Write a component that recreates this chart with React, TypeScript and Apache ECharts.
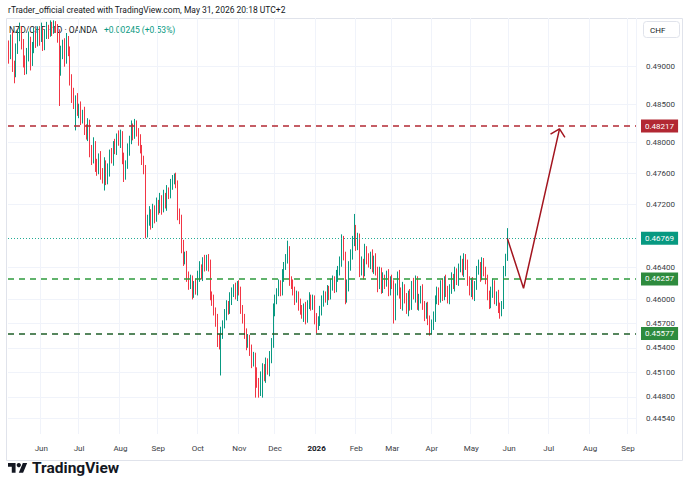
import React, { useEffect, useRef } from 'react';
import * as echarts from 'echarts';

// ---- data ----
const startDate = '2025-05-07';
const endDate = '2026-09-07';
const firstOpen = 0.4925;

const closes = [
  0.4916, 0.4935, 0.4902, 0.4893, 0.4922, 0.4942, 0.4949, 0.4929, 0.4909, 0.4896,
  0.4916, 0.4935, 0.4906, 0.4925, 0.4942, 0.4933, 0.4945, 0.4938, 0.4948, 0.4929,
  0.4942, 0.4950, 0.4946, 0.4953, 0.4949, 0.4955, 0.4952, 0.4942, 0.4896, 0.4916,
  0.4929, 0.4909, 0.4935, 0.4922, 0.4882, 0.4862, 0.4850, 0.4856, 0.4840, 0.4846,
  0.4830, 0.4837, 0.4819, 0.4810, 0.4823, 0.4791, 0.4778, 0.4797, 0.4771, 0.4765,
  0.4780, 0.4762, 0.4755, 0.4771, 0.4752, 0.4765, 0.4784, 0.4778, 0.4797, 0.4791,
  0.4806, 0.4801, 0.4810, 0.4778, 0.4759, 0.4771, 0.4791, 0.4804, 0.4819, 0.4810,
  0.4823, 0.4814, 0.4804, 0.4791, 0.4778, 0.4765, 0.4686, 0.4699, 0.4708, 0.4695,
  0.4714, 0.4704, 0.4720, 0.4714, 0.4727, 0.4716, 0.4729, 0.4720, 0.4737, 0.4733,
  0.4746, 0.4752, 0.4755, 0.4746, 0.4708, 0.4701, 0.4667, 0.4649, 0.4655, 0.4630,
  0.4618, 0.4624, 0.4609, 0.4618, 0.4611, 0.4630, 0.4639, 0.4630, 0.4646, 0.4641,
  0.4651, 0.4642, 0.4605, 0.4600, 0.4585, 0.4575, 0.4551, 0.4545, 0.4557, 0.4569,
  0.4581, 0.4593, 0.4587, 0.4601, 0.4609, 0.4614, 0.4605, 0.4618, 0.4611, 0.4587,
  0.4577, 0.4557, 0.4545, 0.4551, 0.4536, 0.4524, 0.4529, 0.4509, 0.4497, 0.4488,
  0.4503, 0.4515, 0.4505, 0.4521, 0.4512, 0.4527, 0.4545, 0.4587, 0.4600, 0.4609,
  0.4618, 0.4611, 0.4630, 0.4642, 0.4651, 0.4661, 0.4624, 0.4618, 0.4611, 0.4601,
  0.4605, 0.4593, 0.4587, 0.4581, 0.4590, 0.4577, 0.4593, 0.4601, 0.4593, 0.4600,
  0.4577, 0.4568, 0.4572, 0.4587, 0.4597, 0.4605, 0.4601, 0.4611, 0.4605, 0.4618,
  0.4624, 0.4614, 0.4630, 0.4636, 0.4646, 0.4674, 0.4655, 0.4601, 0.4618, 0.4642,
  0.4655, 0.4674, 0.4689, 0.4667, 0.4677, 0.4636, 0.4646, 0.4634, 0.4661, 0.4651,
  0.4646, 0.4655, 0.4639, 0.4649, 0.4636, 0.4618, 0.4634, 0.4614, 0.4626, 0.4621,
  0.4630, 0.4611, 0.4624, 0.4618, 0.4581, 0.4611, 0.4630, 0.4609, 0.4593, 0.4614,
  0.4601, 0.4587, 0.4605, 0.4593, 0.4618, 0.4605, 0.4624, 0.4593, 0.4600, 0.4611,
  0.4593, 0.4581, 0.4590, 0.4575, 0.4563, 0.4569, 0.4577, 0.4600, 0.4609, 0.4601,
  0.4618, 0.4605, 0.4624, 0.4611, 0.4600, 0.4614, 0.4626, 0.4618, 0.4634, 0.4624,
  0.4639, 0.4646, 0.4636, 0.4651, 0.4642, 0.4624, 0.4611, 0.4621, 0.4605, 0.4618,
  0.4636, 0.4642, 0.4630, 0.4646, 0.4636, 0.4624, 0.4605, 0.4596, 0.4611, 0.4618,
  0.4600, 0.4605, 0.4590, 0.4585, 0.4593, 0.4636, 0.46524, 0.46769,
];

// wick lengths in pips above max(open, close) / below min(open, close)
const upperWicks = [
  10, 8, 12, 6, 9, 7, 10, 5, 8, 6,
  9, 12, 5, 8, 10, 6, 9, 7, 11, 5,
  8, 10, 6, 9, 7, 7, 6, 5, 8, 12,
  7, 9, 10, 6, 5, 8, 10, 6, 9, 5,
  8, 6, 10, 5, 9, 7, 6, 10, 5, 8,
  6, 9, 5, 10, 6, 8, 7, 9, 5, 8,
  6, 10, 7, 5, 9, 6, 8, 5, 10, 6,
  8, 6, 5, 7, 6, 5, 6, 8, 10, 6,
  7, 5, 9, 6, 8, 5, 10, 6, 8, 5,
  7, 6, 5, 6, 5, 7, 6, 8, 5, 6,
  5, 7, 6, 5, 8, 6, 9, 5, 7, 10,
  5, 6, 8, 5, 6, 5, 7, 6, 9, 5,
  7, 6, 5, 8, 6, 5, 7, 5, 6, 5,
  6, 5, 7, 6, 5, 8, 6, 5, 7, 6,
  8, 6, 5, 7, 6, 9, 7, 8, 6, 5,
  7, 6, 8, 5, 6, 13, 6, 5, 7, 5,
  6, 5, 8, 6, 5, 7, 6, 8, 5, 6,
  5, 6, 7, 5, 8, 6, 5, 7, 6, 8,
  6, 5, 7, 6, 8, 8, 6, 5, 7, 6,
  8, 6, 19, 5, 7, 6, 8, 5, 9, 6,
  7, 5, 8, 6, 9, 5, 7, 6, 8, 5,
  6, 8, 5, 7, 6, 9, 5, 7, 6, 8,
  5, 7, 6, 8, 5, 9, 6, 5, 7, 6,
  8, 5, 6, 7, 5, 6, 8, 5, 7, 6,
  6, 8, 5, 7, 6, 5, 8, 6, 7, 5,
  6, 9, 5, 7, 6, 8, 5, 6, 7, 5,
  6, 8, 5, 7, 6, 5, 7, 6, 5, 8,
  6, 5, 7, 6, 5, 6, 5, 13,
];
const lowerWicks = [
  12, 6, 9, 15, 7, 5, 8, 6, 10, 7,
  6, 9, 11, 5, 7, 8, 6, 10, 5, 8,
  7, 5, 9, 6, 8, 5, 7, 10, 48, 8,
  6, 9, 5, 8, 7, 10, 6, 34, 5, 8,
  7, 5, 9, 6, 8, 10, 7, 5, 9, 8,
  6, 10, 8, 17, 7, 6, 9, 5, 8, 6,
  7, 5, 8, 6, 10, 7, 5, 8, 6, 7,
  5, 6, 8, 5, 7, 6, 9, 8, 6, 7,
  5, 8, 6, 7, 5, 9, 6, 5, 8, 6,
  5, 7, 6, 5, 8, 6, 9, 7, 5, 8,
  6, 5, 9, 7, 5, 6, 8, 5, 7, 6,
  5, 7, 6, 8, 5, 9, 10, 7, 39, 6,
  5, 7, 6, 5, 8, 6, 5, 7, 6, 5,
  7, 6, 8, 5, 6, 9, 7, 30, 6, 9,
  7, 24, 6, 8, 5, 7, 6, 5, 8, 6,
  5, 7, 6, 8, 5, 6, 7, 5, 6, 8,
  5, 7, 6, 5, 9, 8, 6, 5, 7, 6,
  8, 10, 6, 5, 7, 6, 5, 8, 6, 5,
  7, 6, 5, 8, 6, 5, 6, 7, 5, 8,
  6, 5, 7, 6, 5, 8, 6, 9, 5, 7,
  6, 8, 5, 7, 6, 9, 5, 7, 6, 8,
  5, 7, 6, 5, 11, 7, 6, 8, 5, 7,
  6, 5, 8, 7, 6, 5, 9, 6, 7, 5,
  6, 8, 5, 7, 8, 6, 7, 5, 6, 8,
  5, 7, 6, 8, 5, 6, 7, 5, 8, 6,
  7, 5, 6, 8, 5, 7, 6, 8, 5, 7,
  6, 5, 8, 6, 7, 5, 6, 8, 7, 9,
  6, 8, 7, 9, 6, 5, 7, 4,
];

const yTicks = [0.4454, 0.448, 0.451, 0.454, 0.457, 0.46, 0.464, 0.472, 0.476, 0.48, 0.485, 0.49];
const yMin = 0.4435;
const yMax = 0.49652;
const monthNames = ['Jan', 'Feb', 'Mar', 'Apr', 'May', 'Jun', 'Jul', 'Aug', 'Sep', 'Oct', 'Nov', 'Dec'];

const levelPrices = [0.48217, 0.46769, 0.46257, 0.45577];
const levelLineColors = ['#b22833', '#22ab94', '#2e9a3c', '#1f5f28'];
const levelBoxColors = ['#b22833', '#089981', '#2e8b3e', '#2e8b3e'];
const levelTypes: any[] = [[6, 5], [1, 2], [6, 5], [6, 5]];
const levelWidths = [1.5, 1, 1.5, 1.5];

const arrowDates = ['2026-05-29', '2026-06-11', '2026-07-09'];
const arrowPrices = [0.46769, 0.4614, 0.4818];
const headDates = ['2026-07-02', '2026-07-09', '2026-07-14'];
const headPrices = [0.4811, 0.4818, 0.4807];

const headerText = 'rTrader_official created with TradingView.com, May 31, 2026 20:18 UTC+2';
const symbolText = 'NZD/CHF · 1D · OANDA';
const changeText = '+0.00245 (+0.53%)';

const TV_PATH = 'M14 22H7V11H0V4h14v18zM28 22h-8l7.5-18h8L28 22z';
echarts.graphic.registerShape('tvlogo', echarts.graphic.extendPath(TV_PATH, {}) as any);

const FONT = 'Roboto, "Noto Sans", sans-serif';

function buildCategories(): string[] {
  const out: string[] = [];
  const [sy, sm, sd] = startDate.split('-').map(Number);
  const [ey, em, ed] = endDate.split('-').map(Number);
  const end = Date.UTC(ey, em - 1, ed);
  for (let t = Date.UTC(sy, sm - 1, sd); t <= end; t += 86400000) {
    const d = new Date(t);
    const w = d.getUTCDay();
    if (w === 0 || w === 6) continue;
    out.push(d.toISOString().slice(0, 10));
  }
  return out;
}

export default function App() {
  const ref = useRef<HTMLDivElement>(null);
  useEffect(() => {
    if (!ref.current) return;
    const chart = echarts.init(ref.current, undefined, { renderer: 'svg' });
    const cats = buildCategories();
    const isMonthStart = (i: number) => i > 0 && cats[i].slice(5, 7) !== cats[i - 1].slice(5, 7);

    const ohlc = closes.map((c, i) => {
      const o = i === 0 ? firstOpen : closes[i - 1];
      const hi = Math.max(o, c) + upperWicks[i] * 1e-4;
      const lo = Math.min(o, c) - lowerWicks[i] * 1e-4;
      return [Math.log(o), Math.log(c), Math.log(lo), Math.log(hi)];
    });

    const option: any = {
      animation: false,
      backgroundColor: '#ffffff',
      grid: { left: 8, right: 54, top: 18, bottom: 55, containLabel: false, outerBoundsMode: 'none' },
      xAxis: {
        type: 'category',
        data: cats,
        boundaryGap: true,
        axisLine: { show: false },
        axisTick: { show: false },
        splitLine: { show: true, interval: (i: number) => isMonthStart(i), lineStyle: { color: '#f0f3fa', width: 1 } },
        axisLabel: {
          interval: (i: number) => isMonthStart(i),
          margin: 10,
          fontSize: 8,
          fontFamily: FONT,
          color: '#3a3d45',
          formatter: (v: string) => {
            const m = Number(v.slice(5, 7));
            if (m === 1) return '{b|' + v.slice(0, 4) + '}';
            return monthNames[m - 1];
          },
          rich: { b: { fontWeight: 'bold', fontSize: 8, fontFamily: FONT, color: '#131722' } },
        },
      },
      yAxis: {
        type: 'value',
        position: 'right',
        min: Math.log(yMin),
        max: Math.log(yMax),
        scale: true,
        axisLine: { show: false },
        axisTick: { show: false, customValues: yTicks.map((v) => Math.log(v)) },
        splitLine: { show: true, lineStyle: { color: '#f0f3fa', width: 1 } },
        axisLabel: {
          customValues: yTicks.map((v) => Math.log(v)),
          formatter: (v: number) => Math.exp(v).toFixed(5),
          margin: 10,
          fontSize: 8,
          fontFamily: FONT,
          color: '#3a3d45',
        },
      },
      series: [
        {
          type: 'candlestick',
          data: ohlc,
          barWidth: 1.2,
          clip: true,
          itemStyle: {
            color: '#089981',
            color0: '#f23645',
            borderColor: '#089981',
            borderColor0: '#f23645',
            borderWidth: 1,
          },
          markLine: {
            silent: true,
            precision: 10,
            symbol: ['none', 'none'],
            animation: false,
            data: levelPrices.map((p, k) => ({
              yAxis: Math.log(p),
              lineStyle: { color: levelLineColors[k], type: levelTypes[k], width: levelWidths[k] },
              label: {
                show: true,
                position: 'end',
                distance: 5,
                formatter: p.toFixed(5),
                backgroundColor: levelBoxColors[k],
                color: '#ffffff',
                fontSize: 8,
                fontFamily: FONT,
                padding: [3, 4, 2, 4],
              },
            })),
          },
          z: 3,
        },
        {
          type: 'line',
          data: arrowDates.map((d, k) => [d, Math.log(arrowPrices[k])]),
          symbol: 'none',
          lineStyle: { color: '#a3151f', width: 1.5 },
          z: 5,
          silent: true,
        },
        {
          type: 'line',
          data: headDates.map((d, k) => [d, Math.log(headPrices[k])]),
          symbol: 'none',
          lineStyle: { color: '#a3151f', width: 1.5 },
          z: 5,
          silent: true,
        },
      ],
      graphic: [
        {
          type: 'rect',
          shape: { x: 6.5, y: 18.5, width: 676, height: 442 },
          style: { fill: 'none', stroke: '#e0e3eb', lineWidth: 1 },
          silent: true,
          z: -10,
        },
        {
          type: 'text',
          x: 8,
          y: 10,
          style: { text: headerText, fontSize: 8.5, fontFamily: FONT, fill: '#131722', verticalAlign: 'middle' },
        },
        {
          type: 'text',
          x: 9,
          y: 30,
          z: -5,
          style: { text: symbolText, fontSize: 8.5, fontFamily: FONT, fill: '#131722', verticalAlign: 'middle' },
        },
        {
          type: 'text',
          x: 104,
          y: 30,
          z: -5,
          style: { text: changeText, fontSize: 8.5, fontFamily: FONT, fill: '#089981', verticalAlign: 'middle' },
        },
        {
          type: 'rect',
          shape: { x: 643.5, y: 21.5, width: 36, height: 16, r: 3 },
          style: { fill: '#ffffff', stroke: '#e0e3eb', lineWidth: 1 },
        },
        {
          type: 'text',
          x: 650,
          y: 30,
          style: { text: 'CHF', fontSize: 8, fontFamily: FONT, fill: '#131722', verticalAlign: 'middle' },
        },
        {
          type: 'tvlogo',
          x: 8,
          y: 460.8,
          scaleX: 0.54,
          scaleY: 0.54,
          style: { fill: '#131722' },
        },
        {
          type: 'circle',
          shape: { cx: 8 + 20 * 0.54, cy: 460.8 + 8 * 0.54, r: 4 * 0.54 },
          style: { fill: '#131722' },
        },
        {
          type: 'text',
          x: 32,
          y: 468,
          style: { text: 'TradingView', fontSize: 15.5, fontWeight: 'bold', fontFamily: FONT, fill: '#131722', verticalAlign: 'middle' },
        },
      ],
    };
    chart.setOption(option);
    return () => chart.dispose();
  }, []);
  return (
    <div
      ref={ref}
      style={{ position: 'fixed', left: 0, top: 0, width: 690, height: 489, background: '#ffffff' }}
    />
  );
}
